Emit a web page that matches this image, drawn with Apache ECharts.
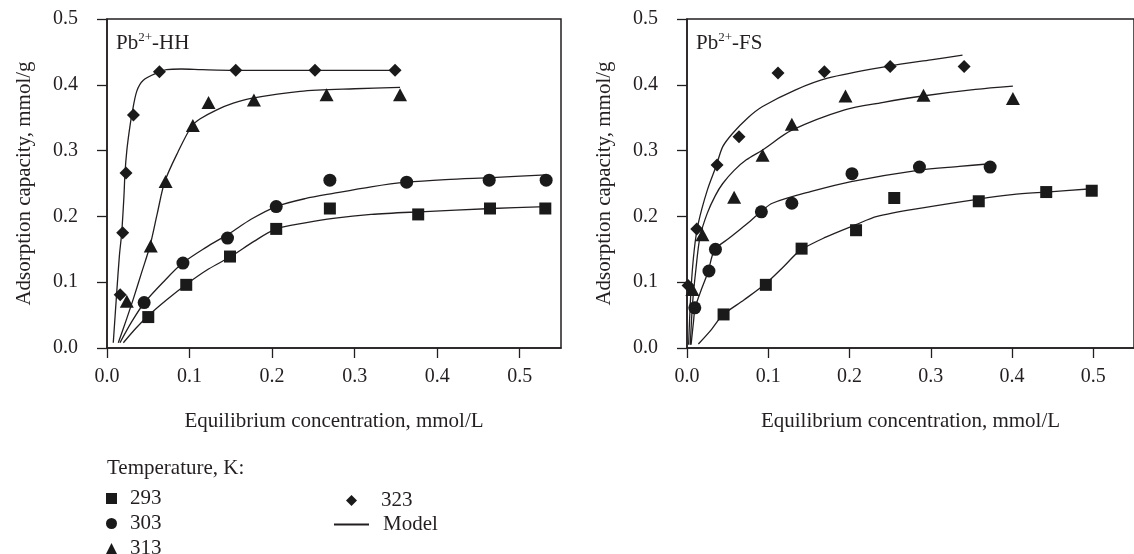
<!DOCTYPE html>
<html>
<head>
<meta charset="utf-8">
<title>Pb2+ adsorption isotherms</title>
<script src="https://cdn.jsdelivr.net/npm/echarts@6/dist/echarts.min.js"></script>
<style>
  html, body { margin: 0; padding: 0; background: #fff; }
  #chart { width: 1134px; height: 554px; }
</style>
</head>
<body>
<div id="chart"></div>
<script>
// tick labels (both panels share them)
const X_TICKS = [0, 0.1, 0.2, 0.3, 0.4, 0.5];
const Y_TICKS = [0, 0.1, 0.2, 0.3, 0.4, 0.5];
const TEMPS = ['293', '303', '313', '323'];

// Pb2+-HH measured points [Ce, q]
const hh293 = [[0.050, 0.047], [0.096, 0.096], [0.149, 0.139], [0.205, 0.181], [0.270, 0.212], [0.377, 0.203], [0.464, 0.212], [0.531, 0.212]];
const hh303 = [[0.045, 0.069], [0.092, 0.129], [0.146, 0.167], [0.205, 0.215], [0.270, 0.255], [0.363, 0.252], [0.463, 0.255], [0.532, 0.255]];
const hh313 = [[0.024, 0.071], [0.053, 0.155], [0.071, 0.253], [0.104, 0.338], [0.123, 0.373], [0.178, 0.377], [0.266, 0.385], [0.355, 0.385]];
const hh323 = [[0.016, 0.081], [0.019, 0.175], [0.023, 0.266], [0.032, 0.354], [0.0635, 0.420], [0.156, 0.422], [0.252, 0.422], [0.349, 0.422]];

// Pb2+-HH model curves
const hhModel293 = [[0.0198, 0.008], [0.035, 0.030], [0.049, 0.048], [0.072, 0.073], [0.0964, 0.097], [0.123, 0.120], [0.150, 0.139], [0.178, 0.162], [0.205, 0.181], [0.240, 0.190], [0.274, 0.197], [0.320, 0.203], [0.379, 0.207], [0.466, 0.212], [0.532, 0.215]];
const hhModel303 = [[0.0157, 0.008], [0.030, 0.040], [0.0448, 0.068], [0.068, 0.100], [0.0916, 0.129], [0.120, 0.153], [0.147, 0.173], [0.175, 0.196], [0.205, 0.215], [0.240, 0.227], [0.274, 0.235], [0.320, 0.245], [0.363, 0.252], [0.410, 0.256], [0.466, 0.259], [0.532, 0.263]];
const hhModel313 = [[0.0137, 0.008], [0.024, 0.045], [0.032, 0.075], [0.042, 0.115], [0.052, 0.155], [0.061, 0.205], [0.070, 0.253], [0.086, 0.298], [0.1025, 0.337], [0.1125, 0.348], [0.133, 0.362], [0.153, 0.372], [0.173, 0.379], [0.234, 0.390], [0.300, 0.394], [0.355, 0.396]];
const hhModel323 = [[0.0076, 0.008], [0.0117, 0.083], [0.015, 0.140], [0.0178, 0.175], [0.0205, 0.230], [0.0218, 0.266], [0.024, 0.300], [0.027, 0.330], [0.030, 0.354], [0.036, 0.390], [0.044, 0.407], [0.0625, 0.419], [0.072, 0.423], [0.090, 0.424], [0.115, 0.423], [0.155, 0.422], [0.250, 0.422], [0.350, 0.422]];

// Pb2+-FS measured points
const fs293 = [[0.045, 0.051], [0.097, 0.096], [0.141, 0.151], [0.208, 0.179], [0.255, 0.228], [0.359, 0.223], [0.442, 0.237], [0.498, 0.239]];
const fs303 = [[0.0096, 0.061], [0.027, 0.117], [0.035, 0.150], [0.0915, 0.207], [0.129, 0.220], [0.203, 0.265], [0.286, 0.275], [0.373, 0.275]];
const fs313 = [[0.0066, 0.089], [0.019, 0.172], [0.058, 0.229], [0.093, 0.293], [0.129, 0.340], [0.195, 0.383], [0.291, 0.384], [0.401, 0.379]];
const fs323 = [[0.0013, 0.095], [0.012, 0.181], [0.037, 0.278], [0.064, 0.321], [0.112, 0.418], [0.169, 0.420], [0.250, 0.428], [0.341, 0.428]];

// Pb2+-FS model curves
const fsModel293 = [[0.014, 0.006], [0.030, 0.028], [0.044, 0.050], [0.070, 0.073], [0.097, 0.098], [0.120, 0.125], [0.139, 0.148], [0.170, 0.168], [0.207, 0.187], [0.234, 0.200], [0.290, 0.213], [0.357, 0.226], [0.400, 0.233], [0.442, 0.237], [0.498, 0.242]];
const fsModel303 = [[0.005, 0.005], [0.008, 0.040], [0.010, 0.061], [0.018, 0.090], [0.026, 0.116], [0.034, 0.149], [0.052, 0.167], [0.072, 0.187], [0.091, 0.207], [0.105, 0.220], [0.153, 0.238], [0.202, 0.253], [0.284, 0.270], [0.335, 0.276], [0.373, 0.280]];
const fsModel313 = [[0.004, 0.005], [0.007, 0.070], [0.011, 0.120], [0.016, 0.169], [0.025, 0.205], [0.035, 0.232], [0.044, 0.250], [0.058, 0.270], [0.073, 0.286], [0.093, 0.301], [0.129, 0.331], [0.194, 0.362], [0.240, 0.373], [0.290, 0.383], [0.355, 0.393], [0.401, 0.398]];
const fsModel323 = [[0.002, 0.005], [0.005, 0.090], [0.009, 0.150], [0.014, 0.190], [0.025, 0.240], [0.036, 0.277], [0.044, 0.306], [0.056, 0.326], [0.075, 0.350], [0.093, 0.367], [0.133, 0.392], [0.173, 0.410], [0.247, 0.428], [0.300, 0.438], [0.339, 0.445]];

const FONT = 'Liberation Serif';
const INK = '#231f20';
const MARK = '#1a1a1a';

// one symbol per temperature
const SYMBOLS = {
  '293': { symbol: 'rect', size: 12 },
  '303': { symbol: 'circle', size: 13 },
  '313': { symbol: 'triangle', size: [14, 13] },
  '323': { symbol: 'diamond', size: 13 },
};

const chart = echarts.init(document.getElementById('chart'));

function makeXAxis(gridIndex) {
  return {
    type: 'value',
    gridIndex: gridIndex,
    min: 0,
    max: 0.55,
    interval: 0.1,
    name: 'Equilibrium concentration, mmol/L',
    nameLocation: 'middle',
    nameGap: 63,
    nameTextStyle: { fontFamily: FONT, fontSize: 21, color: INK },
    axisLine: { lineStyle: { color: INK, width: 1.5 } },
    axisTick: { length: 10, lineStyle: { color: INK, width: 1.3 }, customValues: X_TICKS },
    axisLabel: {
      margin: 19,
      fontFamily: FONT, fontSize: 20, color: INK,
      customValues: X_TICKS,
      formatter: (v) => v.toFixed(1),
    },
    splitLine: { show: false },
  };
}

function makeYAxis(gridIndex) {
  return {
    type: 'value',
    gridIndex: gridIndex,
    min: 0,
    max: 0.5,
    interval: 0.1,
    name: 'Adsorption capacity, mmol/g',
    nameLocation: 'middle',
    nameGap: 72,
    nameTextStyle: { fontFamily: FONT, fontSize: 21, color: INK },
    axisLine: { lineStyle: { color: INK, width: 1.5 } },
    axisTick: { length: 10, lineStyle: { color: INK, width: 1.3 }, customValues: Y_TICKS },
    axisLabel: {
      margin: 29,
      fontFamily: FONT, fontSize: 20, color: INK,
      customValues: Y_TICKS,
      formatter: (v) => v.toFixed(1),
    },
    splitLine: { show: false },
  };
}

function scatter(name, data, idx) {
  const s = SYMBOLS[name];
  return {
    name: name,
    type: 'scatter',
    xAxisIndex: idx,
    yAxisIndex: idx,
    data: data,
    symbol: s.symbol,
    symbolSize: s.size,
    itemStyle: { color: MARK, opacity: 1 },
    z: 3,
  };
}

function model(data, idx) {
  return {
    name: 'Model',
    type: 'line',
    xAxisIndex: idx,
    yAxisIndex: idx,
    data: data,
    smooth: 0.3,
    symbol: 'none',
    lineStyle: { color: INK, width: 1.3 },
    itemStyle: { color: INK },
    z: 2,
  };
}

const rich = {
  n: { fontFamily: FONT, fontSize: 21, fontWeight: 'normal', color: INK, lineHeight: 24 },
  s: { fontFamily: FONT, fontSize: 13, fontWeight: 'normal', color: INK, lineHeight: 24, verticalAlign: 'top' },
};

const legendText = (pad) => ({
  fontFamily: FONT, fontSize: 21, color: INK, lineHeight: 21, padding: [0, 0, 0, pad],
});

const option = {
  backgroundColor: '#fff',
  animation: false,
  title: [
    { text: '{n|Pb}{s|2+}{n|-HH}', left: 111, top: 26, textStyle: { fontWeight: 'normal', rich: rich } },
    { text: '{n|Pb}{s|2+}{n|-FS}', left: 691, top: 26, textStyle: { fontWeight: 'normal', rich: rich } },
    {
      text: 'Temperature, K:', left: 102, top: 453,
      textStyle: { fontFamily: FONT, fontSize: 21, fontWeight: 'normal', color: INK },
    },
  ],
  legend: [
    {
      orient: 'vertical', left: 101, top: 483, height: 100,
      itemWidth: 11, itemHeight: 11, itemGap: 4,
      selectedMode: false,
      data: ['293', '303', '313'],
      textStyle: legendText(8),
    },
    {
      orient: 'vertical', left: 341, top: 485, height: 40,
      itemWidth: 11, itemHeight: 11,
      selectedMode: false,
      data: ['323'],
      textStyle: legendText(19),
    },
    {
      orient: 'vertical', left: 328, top: 509, height: 40,
      itemWidth: 35, itemHeight: 2,
      selectedMode: false,
      data: [{ name: 'Model', itemStyle: { color: 'rgba(0,0,0,0)', borderWidth: 0 } }],
      textStyle: legendText(9),
    },
  ],
  grid: [
    { left: 107, top: 19, width: 454, height: 329, show: true, borderColor: INK, borderWidth: 1.5 },
    { left: 687, top: 19, width: 454, height: 329, show: true, borderColor: INK, borderWidth: 1.5 },
  ],
  xAxis: [makeXAxis(0), makeXAxis(1)],
  yAxis: [makeYAxis(0), makeYAxis(1)],
  series: [
    model(hhModel293, 0), model(hhModel303, 0), model(hhModel313, 0), model(hhModel323, 0),
    scatter(TEMPS[0], hh293, 0), scatter(TEMPS[1], hh303, 0), scatter(TEMPS[2], hh313, 0), scatter(TEMPS[3], hh323, 0),
    model(fsModel293, 1), model(fsModel303, 1), model(fsModel313, 1), model(fsModel323, 1),
    scatter(TEMPS[0], fs293, 1), scatter(TEMPS[1], fs303, 1), scatter(TEMPS[2], fs313, 1), scatter(TEMPS[3], fs323, 1),
  ],
};

chart.setOption(option);
</script>
</body>
</html>
